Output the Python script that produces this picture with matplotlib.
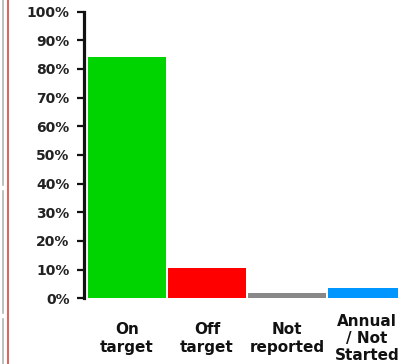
import matplotlib
matplotlib.use("Agg")
import matplotlib.pyplot as plt
from matplotlib.lines import Line2D
import numpy as np

categories = ["On\ntarget", "Off\ntarget", "Not\nreported", "Annual\n/ Not\nStarted"]
values = [84.0, 10.6, 1.7, 3.7]
colors = ["#00d400", "#ff0000", "#888888", "#0096ff"]
yticks = [0, 10, 20, 30, 40, 50, 60, 70, 80, 90, 100]
ytick_labels = [f"{v}%" for v in yticks]

W, H = 398, 364
fig = plt.figure(figsize=(W / 100, H / 100), dpi=100)
fig.patch.set_facecolor("white")

ax_left_px, ax_right_px = 83.5, 407.0
ax_top_px, ax_bottom_px = 11.5, 298.3
ax = fig.add_axes([ax_left_px / W, (H - ax_bottom_px) / H,
                   (ax_right_px - ax_left_px) / W, (ax_bottom_px - ax_top_px) / H])

x = np.arange(len(categories))
ax.bar(x, values, width=0.965, color=colors, edgecolor="none")
ax.set_xlim(-0.544, 3.5)
ax.set_ylim(0, 100)

for s in ["top", "right", "bottom"]:
    ax.spines[s].set_visible(False)
ax.spines["left"].set_linewidth(2.3)
ax.spines["left"].set_color("#111111")

ax.set_yticks(yticks)
ax.set_yticklabels(ytick_labels, fontsize=10, fontweight="bold", color="#222222")
ax.tick_params(axis="y", length=5, width=1.6, pad=5, color="#111111")

ax.set_xticks(x)
ax.set_xticklabels(categories, fontsize=11, fontweight="bold", color="#111111",
                   linespacing=1.18)
ax.tick_params(axis="x", length=0, pad=29)
for lab in ax.get_xticklabels():
    lab.set_verticalalignment("center")

# left-edge frame decorations from the source page
for y0, y1 in [(0, 185), (191, 313), (319, 364)]:
    fig.add_artist(Line2D([3 / W, 3 / W], [1 - y0 / H, 1 - y1 / H],
                          transform=fig.transFigure, color="#b4b4b4", lw=1.2))
fig.add_artist(Line2D([8 / W, 8 / W], [0, 1], transform=fig.transFigure,
                      color="#d83030", lw=1.1))

fig.savefig("out.png", dpi=100, facecolor="white")
